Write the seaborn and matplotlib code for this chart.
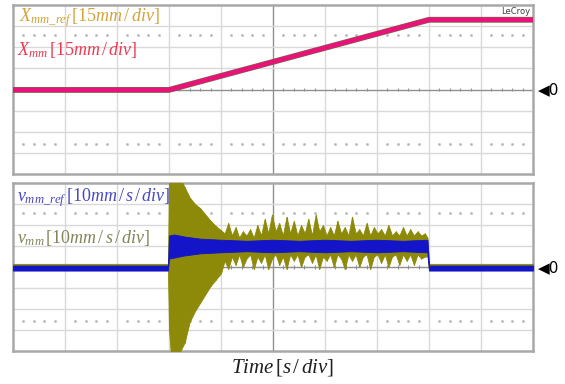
import numpy as np
import pandas as pd
import matplotlib
matplotlib.use("Agg")
import matplotlib.pyplot as plt
import seaborn as sns

# ---- data (in scope divisions) ----
# top channel: position traces
t_pos = [0.0, 3.0, 8.0, 10.0]
x_mm = [-0.02, -0.02, 3.3, 3.3]
x_mm_ref = [-0.02, -0.02, 3.3, 3.3]

t_vel = [0.0, 2.98, 3.0, 3.04, 3.1, 3.2, 3.3, 3.4, 3.5, 3.6, 3.7, 3.8, 3.9, 4.0,
         4.07, 4.14, 4.21, 4.28, 4.35, 4.42, 4.49, 4.56, 4.63, 4.7, 4.77, 4.84, 4.91, 4.98,
         5.05, 5.12, 5.19, 5.26, 5.33, 5.4, 5.47, 5.54, 5.61, 5.68, 5.75, 5.82, 5.89, 5.96,
         6.03, 6.1, 6.17, 6.24, 6.31, 6.38, 6.45, 6.52, 6.59, 6.66, 6.73, 6.8, 6.87, 6.94,
         7.01, 7.08, 7.15, 7.22, 7.29, 7.36, 7.43, 7.5, 7.57, 7.64, 7.71, 7.78, 7.85, 7.92,
         7.97, 8.0, 10.0]
v_mm_hi = [0.15, 0.15, 4.3, 4.3, 4.3, 4.3, 3.8, 3.3, 3.0, 2.8, 2.5, 2.2, 1.95, 1.75,
           1.6, 2.1, 1.5, 1.9, 1.4, 1.7, 1.5, 1.8, 1.4, 2.0, 1.5, 2.3, 1.6, 2.5,
           1.7, 2.1, 1.5, 2.4, 1.6, 2.2, 1.5, 2.0, 1.6, 2.3, 1.5, 2.5, 1.7, 2.0,
           1.5, 1.9, 1.5, 2.2, 1.6, 1.9, 1.5, 2.4, 1.6, 1.8, 1.5, 2.1, 1.5, 1.9,
           1.6, 1.8, 1.5, 2.0, 1.5, 1.7, 1.5, 1.9, 1.5, 1.8, 1.5, 1.7, 1.5, 1.6,
           1.4, 0.15, 0.15]
v_mm_lo = [-0.15, -0.15, -3.0, -4.3, -4.3, -4.1, -3.6, -2.6, -2.1, -1.7, -1.3, -0.9, -0.6, -0.3,
           0.3, -0.1, 0.5, 0.1, 0.6, 0.0, 0.4, 0.6, -0.1, 0.5, 0.2, 0.6, -0.1, 0.4,
           0.6, 0.1, 0.5, -0.1, 0.6, 0.3, 0.6, 0.0, 0.5, 0.6, 0.2, 0.6, -0.1, 0.5,
           0.3, 0.6, 0.0, 0.6, 0.4, -0.1, 0.6, 0.3, 0.6, 0.0, 0.5, 0.6, -0.1, 0.5,
           0.6, 0.2, 0.6, 0.0, 0.5, 0.6, 0.1, 0.6, 0.3, 0.6, 0.1, 0.6, 0.4, 0.5,
           0.5, -0.15, -0.15]

# bottom channel: reference velocity v_mm_ref band
t_ref = [0.0, 2.98, 3.0, 3.1, 3.3, 3.6, 4.0, 4.5, 5.0, 5.5, 6.0, 6.5, 7.0, 7.5, 7.97, 8.0, 10.0]
v_ref_hi = [0.07, 0.07, 1.5, 1.55, 1.45, 1.35, 1.3, 1.25, 1.3, 1.25, 1.3, 1.25, 1.3, 1.25, 1.3, 0.07, 0.07]
v_ref_lo = [-0.17, -0.17, 0.4, 0.45, 0.55, 0.65, 0.7, 0.75, 0.7, 0.75, 0.7, 0.75, 0.7, 0.75, 0.7, -0.17, -0.17]

sns.set_style("white")
plt.rcParams["mathtext.fontset"] = "custom"
plt.rcParams["mathtext.rm"] = "Liberation Serif"
plt.rcParams["mathtext.it"] = "Liberation Serif:italic"

W, H = 565, 384
fig = plt.figure(figsize=(W / 100, H / 100), dpi=100)
ax1 = fig.add_axes([13 / W, 1 - 174 / H, 520 / W, 169 / H])
ax2 = fig.add_axes([13 / W, 1 - 351 / H, 520 / W, 168 / H])


def scope_grid(ax):
    ax.set_xlim(0, 10)
    ax.set_ylim(-4, 4)
    for v in range(1, 10):
        ax.axvline(v, color="#909090" if v == 5 else "#d9d9d9", lw=1.0, zorder=0)
    for h in range(-3, 4):
        ax.axhline(h, color="#909090" if h == 0 else "#d9d9d9", lw=1.0, zorder=0)
    minor = [i / 5 for i in range(1, 50) if i % 5 != 0]
    ax.vlines(minor, -0.09, 0.09, color="#909090", lw=0.8, zorder=0)
    for yd in (2.58, -2.58):
        ax.plot(minor, [yd] * len(minor), ls="none", marker="s", ms=0.9,
                color="#b8b8b8", zorder=0)
    ax.set_xticks([])
    ax.set_yticks([])
    for s in ax.spines.values():
        s.set_color("#a8a8a8")
        s.set_linewidth(1.8)


scope_grid(ax1)
scope_grid(ax2)

# top: position traces
pos = pd.DataFrame({"t": t_pos, "ref": x_mm_ref, "mm": x_mm})
sns.lineplot(data=pos, x="t", y="ref", ax=ax1, color="#5a5a22", lw=4.2, alpha=0.85, zorder=3)
sns.lineplot(data=pos, x="t", y="mm", ax=ax1, color="#e8127a", lw=3.3, zorder=4)
ax1.set_xlabel("")
ax1.set_ylabel("")

# bottom: velocity traces
ax2.fill_between(t_vel, v_mm_lo, v_mm_hi, color="#8c8a08", lw=0.6, edgecolor="#8c8a08", zorder=3)
ax2.vlines(t_vel, v_mm_lo, v_mm_hi, color="#8c8a08", lw=0.8, zorder=3)
ax2.fill_between(t_ref, v_ref_lo, v_ref_hi, color="#1414c8", lw=0.6, edgecolor="#1414c8", zorder=4)
ax2.set_xlabel("")
ax2.set_ylabel("")

# labels
def ftext(x, y, s, **kw):
    fig.text(x / W, 1 - y / H, s, va="center", **kw)

ftext(19, 18, r"$X_{mm\_ref}\,[15mm\,/\,div]$", color="#d0a43a", fontsize=13)
ftext(17, 50, r"$X_{mm}\,[15mm\,/\,div]$", color="#ec3a52", fontsize=13)
ftext(17, 198, r"$v_{mm\_ref}\,[10mm\,/\,s\,/\,div]$", color="#4848c0", fontsize=13)
ftext(17, 238, r"$v_{mm}\,[10mm\,/\,s\,/\,div]$", color="#84845a", fontsize=13)
ftext(530, 12, "LeCroy", color="#404040", fontsize=6, ha="right")
ftext(538, 90, "\u25c00", color="black", fontsize=11)
ftext(538, 268, "\u25c00", color="black", fontsize=11)
ftext(283, 368, r"$Time\,[s\,/\,div]$", color="#202020", fontsize=15, ha="center")

fig.savefig("out.png", dpi=100)
